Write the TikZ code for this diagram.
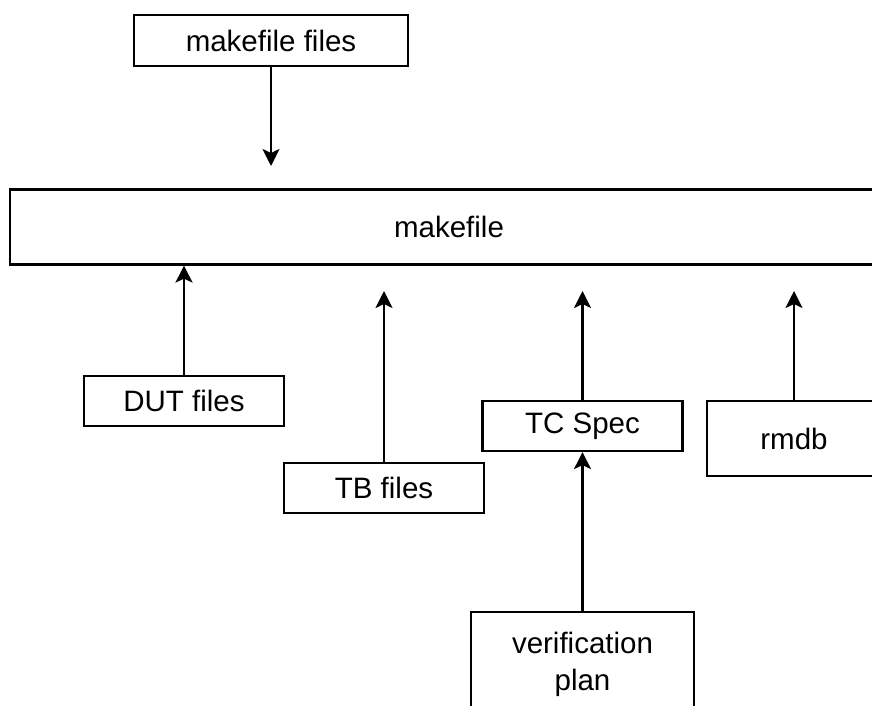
\documentclass[tikz,border=0pt]{standalone}
\usepackage{fontspec}
\setmainfont{Liberation Sans}
\usetikzlibrary{arrows.meta}
\begin{document}
\begin{tikzpicture}[x=1pt,y=-1pt,
  box/.style={draw=black,line width=2.2pt,fill=white,inner sep=0pt,align=center,
    font=\fontsize{29.5}{37}\selectfont},
  flow/.style={draw=black,line width=2.2pt,
    -{Stealth[length=17pt,width=17pt,inset=4pt]}}]
  \useasboundingbox (0,0) rectangle (872,706);
  \clip (0,0) rectangle (872,706);

  % boxes
  \node[box,minimum width=274pt,minimum height=51pt] (mkfiles) at (271,40.5) {makefile files};
  \node[box,minimum width=878pt,minimum height=75pt] (make) at (449,227) {makefile};
  \node[box,minimum width=200pt,minimum height=50pt] (dut) at (184,401) {DUT files};
  \node[box,minimum width=200pt,minimum height=50pt] (tb) at (384,488) {TB files};
  \node[box,minimum width=200pt,minimum height=50pt] (tc) at (582.5,426) {TC Spec};
  \node[box,minimum width=174pt,minimum height=75pt] (rmdb) at (794,438.5) {rmdb};
  \node[box,minimum width=223pt,minimum height=104pt] (vp) at (582.5,664) {verification\\plan};

  % free arrow ends
  \coordinate (mkin) at (271,166);
  \coordinate (tbin) at (384,291);
  \coordinate (tcin) at (582.5,291);
  \coordinate (rmin) at (794,291);

  % connectors
  \draw[flow] (mkfiles.south) -- (mkin);
  \draw[flow] (dut.north) -- (dut.north |- make.south);
  \draw[flow] (tb.north) -- (tbin);
  \draw[flow] (tc.north) -- (tcin);
  \draw[flow] (rmdb.north) -- (rmin);
  \draw[flow] (vp.north) -- (tc.south);
\end{tikzpicture}
\end{document}
